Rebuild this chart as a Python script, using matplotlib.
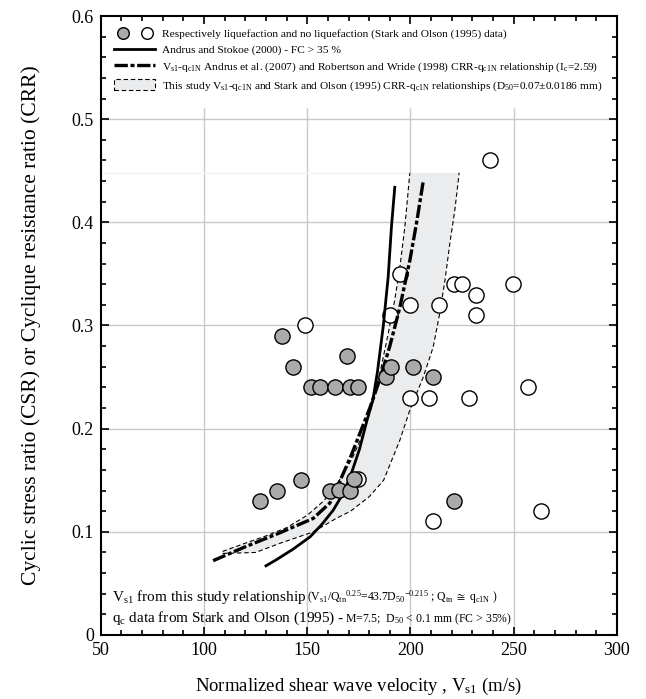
import numpy as np
import matplotlib
matplotlib.use("Agg")
from matplotlib import pyplot as plt
from matplotlib.legend_handler import HandlerTuple
from matplotlib.patches import Polygon, Rectangle
from matplotlib.ticker import MultipleLocator

plt.rcParams['font.family'] = ['Liberation Serif', 'DejaVu Serif']
plt.rcParams['mathtext.fontset'] = 'custom'
plt.rcParams['mathtext.rm'] = 'Liberation Serif'
plt.rcParams['mathtext.it'] = 'Liberation Serif:italic'
plt.rcParams['mathtext.fallback'] = 'stix'

# liquefaction (grey) / no liquefaction (white), Stark and Olson (1995)
liq_vs = [127.0, 135.3, 146.9, 138.0, 142.9, 152.0, 156.1, 163.6, 170.7, 174.5,
          169.3, 160.9, 165.5, 170.6, 172.6, 188.3, 190.7, 201.3, 211.0, 221.0]
liq_csr = [0.130, 0.140, 0.150, 0.290, 0.260, 0.240, 0.240, 0.240, 0.240, 0.240,
           0.270, 0.140, 0.141, 0.140, 0.151, 0.250, 0.260, 0.260, 0.250, 0.130]
noliq_vs = [149.0, 174.5, 190.0, 194.9, 199.8, 214.0, 221.0, 224.8, 231.6, 231.5,
            249.8, 238.5, 199.7, 209.1, 228.2, 257.0, 210.7, 263.0]
noliq_csr = [0.300, 0.151, 0.310, 0.350, 0.320, 0.320, 0.340, 0.340, 0.330, 0.310,
             0.340, 0.460, 0.230, 0.230, 0.230, 0.240, 0.110, 0.120]

# Andrus and Stokoe (2000) - FC > 35 %
as_vs = [130.0, 135.1, 143.0, 151.3, 157.0, 162.6, 167.0, 170.6, 175.3, 178.8,
         181.8, 184.0, 186.8, 189.2, 190.8, 192.4]
as_crr = [0.067, 0.073, 0.083, 0.095, 0.107, 0.121, 0.136, 0.152, 0.180, 0.207,
          0.228, 0.255, 0.299, 0.347, 0.396, 0.434]

# Andrus et al. (2007) + Robertson and Wride (1998), Ic=2.59
rw_vs = [104.4, 120.6, 136.7, 152.9, 161.0, 166.0, 171.5, 176.0, 180.3, 185.2,
         190.0, 194.9, 199.7, 203.0, 206.2]
rw_crr = [0.072, 0.086, 0.099, 0.113, 0.128, 0.150, 0.175, 0.198, 0.220, 0.248,
          0.280, 0.318, 0.363, 0.400, 0.440]

# this study band
up_vs = [109.0, 120.0, 130.0, 140.0, 150.0, 158.0, 165.0, 172.0, 177.0, 181.2,
         185.2, 189.2, 192.4, 194.9, 197.3, 199.7]
up_crr = [0.081, 0.089, 0.096, 0.104, 0.116, 0.130, 0.148, 0.172, 0.195, 0.221,
          0.254, 0.292, 0.325, 0.357, 0.396, 0.448]
lo_vs = [109.0, 125.0, 137.0, 153.0, 164.0, 171.0, 180.0, 187.0, 194.9, 199.7,
         206.2, 211.0, 214.2, 216.8, 219.1, 221.5, 223.6]
lo_crr = [0.079, 0.080, 0.089, 0.100, 0.113, 0.120, 0.134, 0.150, 0.189, 0.218,
          0.250, 0.279, 0.312, 0.345, 0.380, 0.412, 0.448]

grid_x = [100, 150, 200, 250]
grid_y = [0.1, 0.2, 0.3, 0.4, 0.5]
grid_top = 0.511  # gridlines stop under the legend block

fig = plt.figure(figsize=(6.46, 6.99), dpi=100)
ax = fig.add_axes([0.156, 0.0916, 0.799, 0.8855])

ax.set_xlim(50, 300)
ax.set_ylim(0, 0.6)
ax.xaxis.set_major_locator(MultipleLocator(50))
ax.xaxis.set_minor_locator(MultipleLocator(10))
ax.yaxis.set_minor_locator(MultipleLocator(0.02))
ax.set_yticks(np.arange(0, 0.61, 0.1))
ax.set_yticklabels(['0', '0.1', '0.2', '0.3', '0.4', '0.5', '0.6'])
ax.tick_params(which='both', direction='in', top=True, right=True, labelsize=13, width=1.2)
ax.tick_params(which='major', length=6, pad=5)
ax.tick_params(which='minor', length=3.5)
for s in ax.spines.values():
    s.set_linewidth(1.5)

ax.vlines(grid_x, 0, grid_top, color='#c8c8c8', lw=1.0, zorder=0.5)
ax.hlines(grid_y, 50, 300, color='#c8c8c8', lw=1.0, zorder=0.5)

# band
band_pts = list(zip(up_vs, up_crr)) + list(zip(lo_vs[::-1], lo_crr[::-1]))
ax.add_patch(Polygon(band_pts, closed=True, facecolor='#ebeced', edgecolor='none', zorder=1))
ax.plot([50, up_vs[-1]], [up_crr[-1], up_crr[-1]], color='#f3f3f3', lw=1, zorder=1)
ax.plot(up_vs, up_crr, color='k', lw=0.8, dashes=(4, 2.5), zorder=2)
ax.plot(lo_vs, lo_crr, color='k', lw=0.8, dashes=(4, 2.5), zorder=2)

ax.scatter(noliq_vs, noliq_csr, s=120, facecolor='white', edgecolor='k', lw=1.0, zorder=3)
ln_as, = ax.plot(as_vs, as_crr, color='k', lw=2.0, zorder=4)
ln_rw, = ax.plot(rw_vs, rw_crr, color='k', lw=2.4, dashes=(4, 0.8, 1.2, 0.8), zorder=4)
ax.scatter(liq_vs, liq_csr, s=120, facecolor='#aaaaaa', edgecolor='k', lw=1.0, zorder=5)

h_liq = ax.scatter([], [], s=70, facecolor='#aaaaaa', edgecolor='k', lw=1.0)
h_no = ax.scatter([], [], s=70, facecolor='white', edgecolor='k', lw=1.0)
h_band = Rectangle((0, 0), 1, 1, facecolor='#ebeced', edgecolor='k', lw=0.8, ls=(0, (4, 2.5)))
leg = ax.legend([(h_liq, h_no), ln_as, ln_rw, h_band],
                ['Respectively liquefaction and no liquefaction (Stark and Olson (1995) data)',
                 'Andrus and Stokoe (2000) - FC > 35 %',
                 r'V$_{\rm s1}$-q$_{\rm c1N}$ Andrus et al. (2007) and Robertson and Wride (1998) CRR-q$_{\rm c1N}$ relationship (I$_{\rm c}$=2.59)',
                 r'This study V$_{\rm s1}$-q$_{\rm c1N}$ and Stark and Olson (1995) CRR-q$_{\rm c1N}$ relationships (D$_{50}$=0.07$\pm$0.0186 mm)'],
                handler_map={tuple: HandlerTuple(ndivide=None, pad=0.6)},
                loc='upper left', bbox_to_anchor=(0.012, 0.993), frameon=False,
                fontsize=8.2, handlelength=3.6, handleheight=1.0, labelspacing=0.45,
                handletextpad=0.6, borderaxespad=0.25)
leg.set_zorder(7)

# bottom notes
t1 = ax.text(0.022, 0.055, r'V$_{\rm s1}$ from this study relationship ', transform=ax.transAxes,
             fontsize=11, va='baseline', zorder=7)
ax.annotate(r'(V$_{\rm s1}$/Q$_{\rm tn}$$^{0.25}$=43.7D$_{50}$$^{-0.215}$ ; Q$_{\rm tn}$ $\cong$ q$_{\rm c1N}$ )',
            xy=(1, 0), xycoords=t1, fontsize=8.5, va='bottom', zorder=7)
t2 = ax.text(0.022, 0.021, r'q$_{\rm c}$ data from Stark and Olson (1995) - ', transform=ax.transAxes,
             fontsize=11, va='baseline', zorder=7)
ax.annotate(r'M=7.5;  D$_{50}$ < 0.1 mm (FC > 35%)',
            xy=(1, 0), xycoords=t2, fontsize=8.5, va='bottom', zorder=7)

ax.set_xlabel(r'Normalized shear wave velocity , V$_{\rm s1}$ (m/s)', fontsize=13.5, labelpad=12)
ax.set_ylabel('Cyclic stress ratio (CSR) or Cyclique resistance ratio (CRR)', fontsize=15.5, labelpad=22)

fig.savefig('out.png', dpi=100)
